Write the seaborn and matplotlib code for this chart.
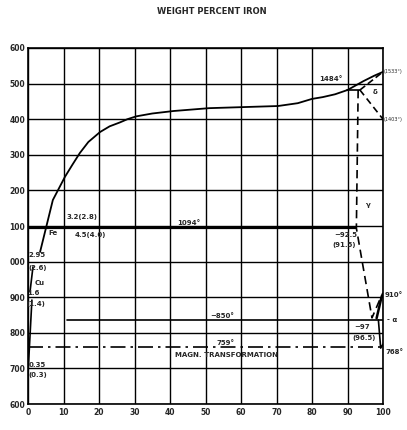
import matplotlib
matplotlib.use("Agg")
import matplotlib.pyplot as plt
import seaborn as sns
import pandas as pd

# Cu-Fe diagram, weight percent iron vs temperature
liq_x = [3.4, 5.2, 7.0, 10.4, 12.5, 14.6, 17, 20.3, 23, 25.9, 28, 30.5, 35, 41, 51, 60.6, 70.4, 76, 80, 83, 86.5, 90, 94.5, 97.5, 100]
liq_t = [1027, 1100, 1173, 1238, 1272, 1305, 1336, 1364, 1380, 1391, 1400, 1408, 1416, 1423, 1431, 1434, 1437, 1445, 1457, 1462, 1470, 1482, 1507, 1522, 1533]

cu_x1 = [1.4, 0.56]
cu_t1 = [985, 915]
cu_x2 = [1.1, 0.1]
cu_t2 = [892, 704]

peri_x = [89.9, 93.5]
peri_t = [1482, 1482]
delta_sol_x = [93.5, 100]
delta_sol_t = [1482, 1533]
delta_low_x = [93.5, 100]
delta_low_t = [1482, 1400]

gamma_x = [93.0, 92.5, 96.9, 99.6]
gamma_t = [1482, 1094, 842, 905]
alpha1_x = [98.2, 99.6, 100]
alpha1_t = [841, 901, 910]
alpha2_x = [98.7, 99.35, 100]
alpha2_t = [836, 757, 768]

eut_x = [0, 92.5]
eut_t = [1094, 1094]
line850_x = [11, 100]
line850_t = [835, 835]
magn_x = [0, 100]
magn_t = [759, 759]

x_ticks = list(range(0, 101, 10))
y_ticks = list(range(600, 1601, 100))
y_tick_labels = ["600", "700", "800", "900", "000", "100", "200", "300", "400", "500", "600"]

labels = [
    ("1484°", 85.2, 1513, "center"), ("(1533°)", 100.1, 1533, "left"),
    ("δ", 97.7, 1476, "center"), ("(1403°)", 100.1, 1398, "left"),
    ("γ", 95.8, 1159, "center"), ("~92.5", 89.4, 1075, "center"),
    ("(91.5)", 89.0, 1047, "center"), ("~97", 94.0, 816, "center"),
    ("(96.5)", 94.6, 785, "center"), ("910°", 100.5, 905, "left"),
    ("768°", 100.6, 746, "left"), ("- α", 101.2, 836, "left"),
    ("~850°", 54.6, 847, "center"), ("759°", 55.5, 771, "center"),
    ("MAGN. TRANSFORMATION", 55.8, 738, "center"), ("1094°", 45.3, 1108, "center"),
    ("3.2(2.8)", 15.2, 1125, "center"), ("4.5(4.0)", 17.5, 1075, "center"),
    ("Fe", 7.1, 1080, "center"), ("2.95", 2.5, 1019, "center"),
    ("(2.6)", 2.7, 982, "center"), ("Cu", 3.4, 940, "center"),
    ("1.6", 1.4, 912, "center"), ("(1.4)", 2.2, 881, "center"),
    ("0.35", 2.7, 710, "center"), ("(0.3)", 2.7, 682, "center"),
]

sns.set_style("white")
plt.rcParams["font.family"] = ["DejaVu Sans"]

fig = plt.figure(figsize=(4.07, 4.30), dpi=100)
ax = fig.add_axes([28 / 407, 1 - 404 / 430, 355 / 407, 356 / 430])


def draw(xs, ts, ls="-", lw=1.2):
    d = pd.DataFrame({"x": xs, "t": ts})
    sns.lineplot(data=d, x="x", y="t", sort=False, estimator=None, color="black",
                 linestyle=ls, linewidth=lw, ax=ax)


draw(liq_x, liq_t, lw=1.3)
draw(cu_x1, cu_t1)
draw(cu_x2, cu_t2)
draw(peri_x, peri_t)
draw(delta_sol_x, delta_sol_t, ls=(0, (4, 2)))
draw(delta_low_x, delta_low_t, ls=(0, (4, 2.5)))
draw(gamma_x, gamma_t, ls=(0, (5, 3)))
draw(alpha1_x, alpha1_t, lw=1.8)
draw(alpha2_x, alpha2_t)
draw(eut_x, eut_t, lw=1.6)
draw(line850_x, line850_t)
draw(magn_x, magn_t, ls=(0, (9, 3, 1.5, 3)))

ax.set_xlim(0, 100)
ax.set_ylim(600, 1600)
ax.set_xticks(x_ticks)
ax.set_yticks(y_ticks)
ax.set_yticklabels(y_tick_labels)
ax.grid(True, color="black", linewidth=1.0)
ax.set_axisbelow(True)
for s in ax.spines.values():
    s.set_color("black")
    s.set_linewidth(1.2)
ax.tick_params(length=0, labelsize=5.5, pad=3)
ax.tick_params(axis="y", pad=2)
for t in ax.get_xticklabels() + ax.get_yticklabels():
    t.set_fontweight("bold")
ax.set_xlabel("")
ax.set_ylabel("")

for txt, x, t, ha in labels:
    if txt.startswith("(1") and "°" in txt:
        ax.text(x, t, txt, fontsize=3.6, ha=ha, va="center", clip_on=False)
    else:
        ax.text(x, t, txt, fontsize=5, fontweight="bold", ha=ha, va="center", clip_on=False)

fig.text(212 / 407, 1 - 12 / 430, "WEIGHT PERCENT IRON", ha="center", va="center",
         fontsize=6, fontweight="bold")

fig.savefig("out.png", dpi=100)
